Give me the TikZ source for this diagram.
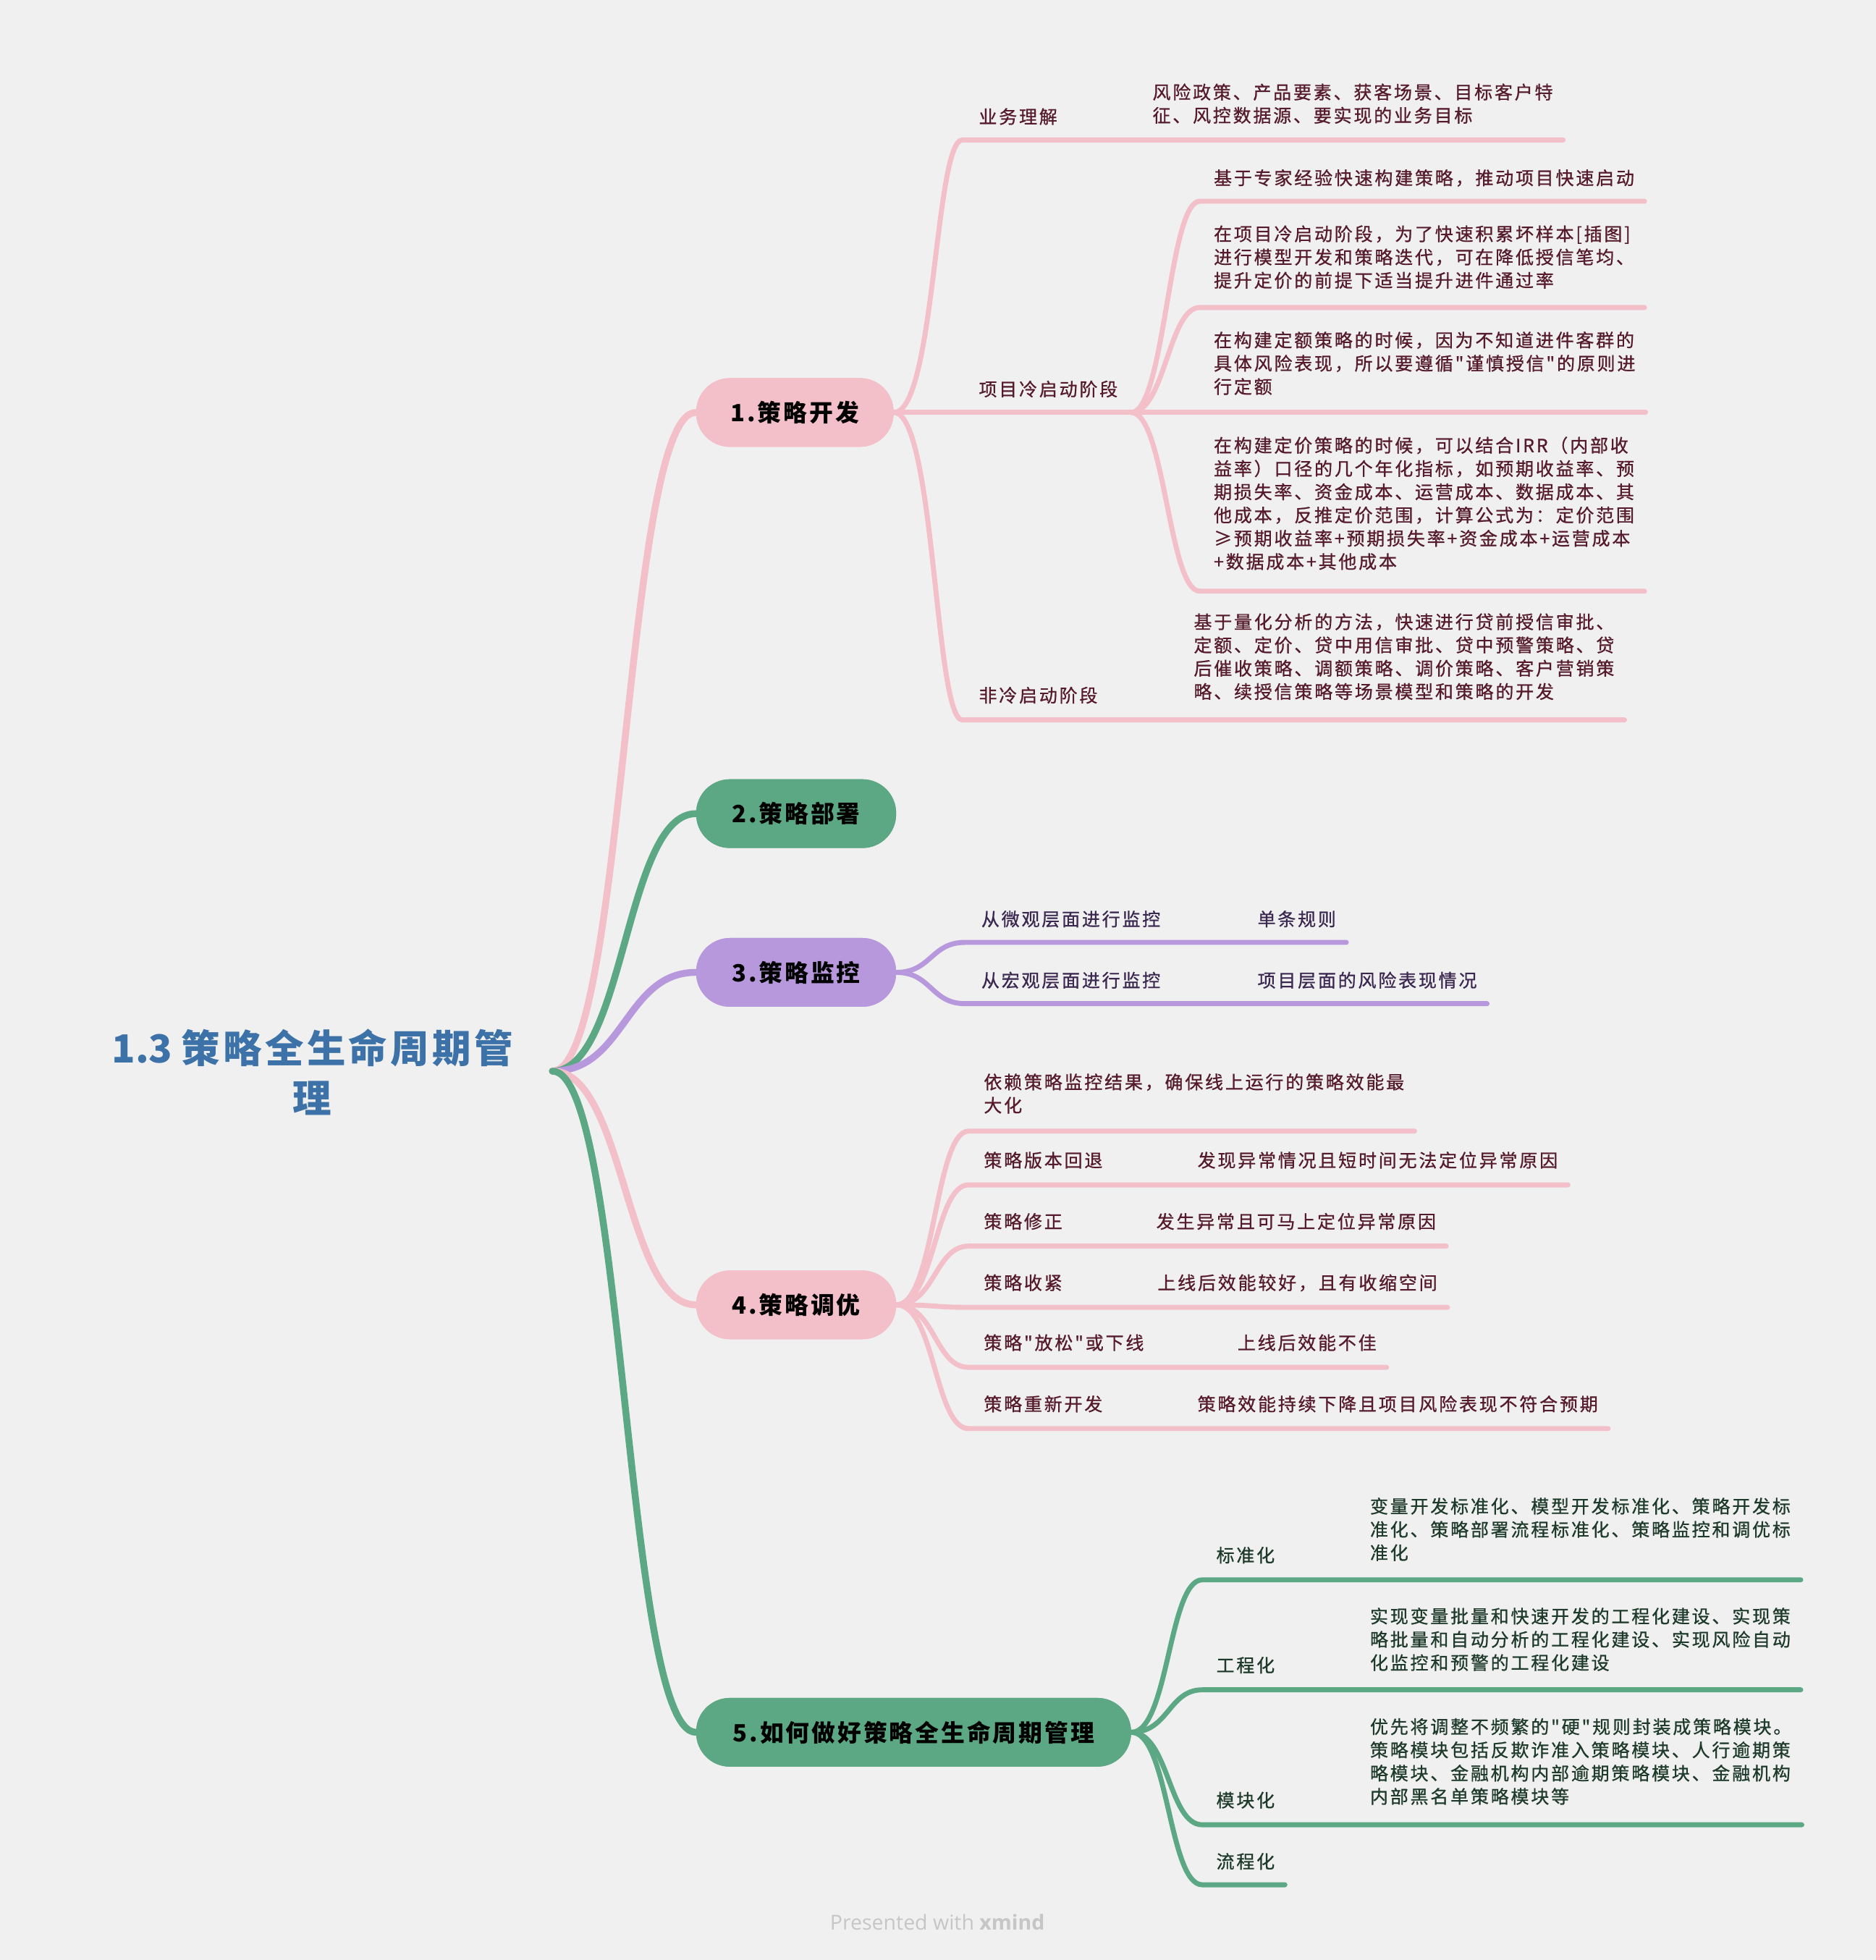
\documentclass[tikz,border=0pt]{standalone}
\usepackage{fontspec}
\setmainfont{Noto Sans CJK SC}
\newfontfamily\bodyf[LetterSpace=11,FakeBold=0.8]{Noto Sans CJK SC}
\newfontfamily\pillf[LetterSpace=9]{Noto Sans CJK SC}
\newfontfamily\rootf[LetterSpace=8]{Noto Sans CJK SC}
\newfontfamily\rootlat{Noto Sans CJK SC}
\newfontfamily\wmf{Open Sans}

\definecolor{bg}{HTML}{F0F0F0}
\definecolor{pinkc}{HTML}{F3BFC9}
\definecolor{greenc}{HTML}{5DA884}
\definecolor{purplec}{HTML}{B898DC}
\definecolor{rootc}{HTML}{3C72A7}
\definecolor{maroon}{HTML}{551A2B}
\definecolor{dpurple}{HTML}{3B2850}
\definecolor{dgreen}{HTML}{1E3A2B}
\definecolor{wmgray}{HTML}{C6C6C6}

\newcommand{\ld}{\rule[-4pt]{0pt}{4pt}}

\begin{document}
\begin{tikzpicture}[x=1pt,y=-1pt,
  subtext/.style={anchor=south west, inner xsep=8pt, inner ysep=0pt, align=left,
     font={\bodyf\fontsize{14.5}{18.6}\selectfont}},
  pill/.style={rounded corners=27pt, minimum height=55pt, inner sep=0pt,
     font={\pillf\bfseries\fontsize{19}{22}\selectfont}, text=black},
  mainline/.style={line width=5.5pt, line cap=round},
  subline/.style={line width=4pt, line cap=round}
]
\fill[bg] (0,0) rectangle (1501,1568.2);
\useasboundingbox (0,0) rectangle (1501,1568.2);

% ---------- root ----------
\node[font={\rootf\bfseries\fontsize{31}{40}\selectfont}, text=rootc, align=center, inner sep=0pt] (root) at (250,858) {{\rootlat 1.3 }策略全生命周期管\\理};
\coordinate (rc) at (442,857);

% ---------- main pills (placed first for anchors) ----------
\node[pill, fill=pinkc, minimum width=158pt] (P1) at (636,330) {1.策略开发};
\node[pill, fill=greenc, minimum width=160pt] (P2) at (637,651) {2.策略部署};
\node[pill, fill=purplec, minimum width=160pt] (P3) at (637,778) {3.策略监控};
\node[pill, fill=pinkc, minimum width=160pt] (P4) at (637,1044) {4.策略调优};
\node[pill, fill=greenc, minimum width=348pt] (P5) at (731,1386) {5.如何做好策略全生命周期管理};

% ---------- branch 1 texts ----------
\begin{scope}[text=maroon]
\node[subtext] (L1a) at (775,103) {业务理解\ld};
\node[subtext] (C1a) at (914,102) {风险政策、产品要素、获客场景、目标客户特\\征、风控数据源、要实现的业务目标\ld};
\node[subtext] (L1b) at (775,321) {项目冷启动阶段\ld};
\node[subtext] (C1b1) at (963,152) {基于专家经验快速构建策略，推动项目快速启动\ld};
\node[subtext] (C1b2) at (963,234) {在项目冷启动阶段，为了快速积累坏样本[插图]\\进行模型开发和策略迭代，可在降低授信笔均、\\提升定价的前提下适当提升进件通过率\ld};
\node[subtext] (C1b3) at (963,319) {在构建定额策略的时候，因为不知道进件客群的\\具体风险表现，所以要遵循"谨慎授信"的原则进\\行定额\ld};
\node[subtext] (C1b4) at (963,459) {在构建定价策略的时候，可以结合IRR（内部收\\益率）口径的几个年化指标，如预期收益率、预\\期损失率、资金成本、运营成本、数据成本、其\\他成本，反推定价范围，计算公式为：定价范围\\≥预期收益率+预期损失率+资金成本+运营成本\\+数据成本+其他成本\ld};
\node[subtext] (L1c) at (775,566) {非冷启动阶段\ld};
\node[subtext] (C1c) at (947,563) {基于量化分析的方法，快速进行贷前授信审批、\\定额、定价、贷中用信审批、贷中预警策略、贷\\后催收策略、调额策略、调价策略、客户营销策\\略、续授信策略等场景模型和策略的开发\ld};
\end{scope}

% ---------- branch 3 texts ----------
\begin{scope}[text=dpurple]
\node[subtext] (L3a) at (777,745) {从微观层面进行监控\ld};
\node[subtext] (C3a) at (998,745) {单条规则\ld};
\node[subtext] (L3b) at (777,794) {从宏观层面进行监控\ld};
\node[subtext] (C3b) at (998,794) {项目层面的风险表现情况\ld};
\end{scope}

% ---------- branch 4 texts ----------
\begin{scope}[text=maroon]
\node[subtext] (C4a) at (779,894) {依赖策略监控结果，确保线上运行的策略效能最\\大化\ld};
\node[subtext] (L4b) at (779,938) {策略版本回退\ld};
\node[subtext] (C4b) at (950,938) {发现异常情况且短时间无法定位异常原因\ld};
\node[subtext] (L4c) at (779,987) {策略修正\ld};
\node[subtext] (C4c) at (917,987) {发生异常且可马上定位异常原因\ld};
\node[subtext] (L4d) at (779,1036) {策略收紧\ld};
\node[subtext] (C4d) at (918,1036) {上线后效能较好，且有收缩空间\ld};
\node[subtext] (L4e) at (779,1084) {策略"放松"或下线\ld};
\node[subtext] (C4e) at (982,1084) {上线后效能不佳\ld};
\node[subtext] (L4f) at (779,1133) {策略重新开发\ld};
\node[subtext] (C4f) at (950,1133) {策略效能持续下降且项目风险表现不符合预期\ld};
\end{scope}

% ---------- branch 5 texts ----------
\begin{scope}[text=dgreen]
\node[subtext] (L5a) at (965,1254) {标准化\ld};
\node[subtext] (C5a) at (1088,1252) {变量开发标准化、模型开发标准化、策略开发标\\准化、策略部署流程标准化、策略监控和调优标\\准化\ld};
\node[subtext] (L5b) at (965,1342) {工程化\ld};
\node[subtext] (C5b) at (1088,1340) {实现变量批量和快速开发的工程化建设、实现策\\略批量和自动分析的工程化建设、实现风险自动\\化监控和预警的工程化建设\ld};
\node[subtext] (L5c) at (965,1450) {模块化\ld};
\node[subtext] (C5c) at (1088,1447) {优先将调整不频繁的"硬"规则封装成策略模块。\\策略模块包括反欺诈准入策略模块、人行逾期策\\略模块、金融机构内部逾期策略模块、金融机构\\内部黑名单策略模块等\ld};
\node[subtext] (L5d) at (965,1499) {流程化\ld};
\end{scope}

% ---------- coordinates of underline starts ----------
\coordinate (u1a) at (770,112);
\coordinate (J1b) at (905,330);
\coordinate (u1b1) at (960,161);
\coordinate (u1b2) at (960,246);
\coordinate (u1b4) at (960,473);
\coordinate (u1c) at (770,576);
\coordinate (u3a) at (772,754);
\coordinate (u3b) at (772,803);
\coordinate (u4a) at (775,905);
\coordinate (u4b) at (775,948);
\coordinate (u4c) at (775,997);
\coordinate (u4d) at (775,1046);
\coordinate (u4e) at (775,1094);
\coordinate (u4f) at (775,1143);
\coordinate (u5a) at (962,1264);
\coordinate (u5b) at (962,1352);
\coordinate (u5c) at (962,1460);
\coordinate (u5d) at (962,1508);

% ---------- connectors ----------
% root -> pills
\draw[mainline, pinkc] (rc) .. controls (500,857) and (500,330) .. (P1.west);
\draw[mainline, greenc] (rc) .. controls (500,857) and (500,651) .. (P2.west);
\draw[mainline, purplec] (rc) .. controls (500,857) and (500,778) .. (P3.west);
\draw[mainline, pinkc] (rc) .. controls (500,857) and (500,1044) .. (P4.west);
\draw[mainline, greenc] (rc) .. controls (500,857) and (500,1386) .. (P5.west);

% branch 1
\draw[subline, pinkc] (P1.east) .. controls (748,330) and (748,112) .. (u1a) -- (C1a.east |- u1a);
\draw[subline, pinkc] (P1.east) -- (J1b);
\draw[subline, pinkc] (J1b) .. controls (932,330) and (935,161) .. (u1b1) -- (C1b1.east |- u1b1);
\draw[subline, pinkc] (J1b) .. controls (932,330) and (935,246) .. (u1b2) -- (C1b2.east |- u1b2);
\draw[subline, pinkc] (J1b) -- (C1b3.east |- J1b);
\draw[subline, pinkc] (J1b) .. controls (932,330) and (935,473) .. (u1b4) -- (C1b4.east |- u1b4);
\draw[subline, pinkc] (P1.east) .. controls (748,330) and (748,576) .. (u1c) -- (C1c.east |- u1c);

% branch 3
\draw[subline, purplec] (P3.east) .. controls (745,778) and (745,754) .. (u3a) -- (C3a.east |- u3a);
\draw[subline, purplec] (P3.east) .. controls (745,778) and (745,803) .. (u3b) -- (C3b.east |- u3b);

% branch 4
\draw[subline, pinkc] (P4.east) .. controls (748,1044) and (748,905) .. (u4a) -- (C4a.east |- u4a);
\draw[subline, pinkc] (P4.east) .. controls (748,1044) and (748,948) .. (u4b) -- (C4b.east |- u4b);
\draw[subline, pinkc] (P4.east) .. controls (748,1044) and (748,997) .. (u4c) -- (C4c.east |- u4c);
\draw[subline, pinkc] (P4.east) .. controls (748,1044) and (748,1046) .. (u4d) -- (C4d.east |- u4d);
\draw[subline, pinkc] (P4.east) .. controls (748,1044) and (748,1094) .. (u4e) -- (C4e.east |- u4e);
\draw[subline, pinkc] (P4.east) .. controls (748,1044) and (748,1143) .. (u4f) -- (C4f.east |- u4f);

% branch 5
\draw[subline, greenc] (P5.east) .. controls (935,1386) and (935,1264) .. (u5a) -- (C5a.east |- u5a);
\draw[subline, greenc] (P5.east) .. controls (935,1386) and (935,1352) .. (u5b) -- (C5b.east |- u5b);
\draw[subline, greenc] (P5.east) .. controls (935,1386) and (935,1460) .. (u5c) -- (C5c.east |- u5c);
\draw[subline, greenc] (P5.east) .. controls (935,1386) and (935,1508) .. (u5d) -- (L5d.east |- u5d);

% redraw pills on top of line ends
\node[pill, fill=pinkc, minimum width=158pt] at (P1) {1.策略开发};
\node[pill, fill=greenc, minimum width=160pt] at (P2) {2.策略部署};
\node[pill, fill=purplec, minimum width=160pt] at (P3) {3.策略监控};
\node[pill, fill=pinkc, minimum width=160pt] at (P4) {4.策略调优};
\node[pill, fill=greenc, minimum width=348pt] at (P5) {5.如何做好策略全生命周期管理};

% watermark
\node[font={\wmf\fontsize{16.5}{18}\selectfont}, text=wmgray] (wm) at (750,1538) {Presented with \textbf{xmind}};
\end{tikzpicture}
\end{document}
